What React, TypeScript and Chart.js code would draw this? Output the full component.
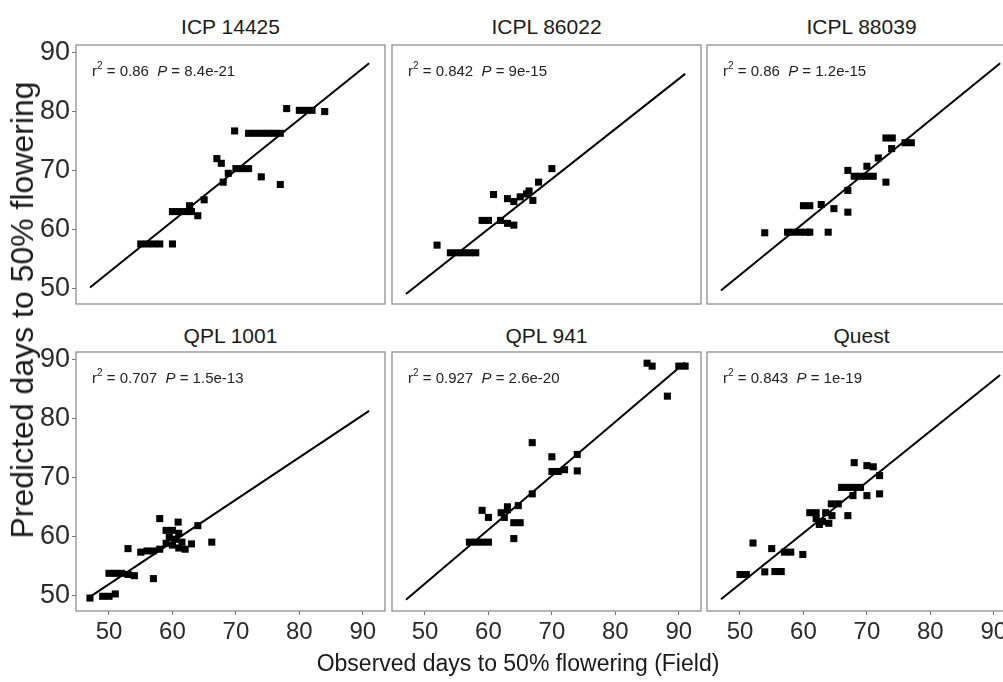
import React, { useEffect, useRef } from 'react';
import { Chart, registerables } from 'chart.js';

Chart.register(...registerables);

// ---------- data ----------
const panelTitles = ['ICP 14425', 'ICPL 86022', 'ICPL 88039', 'QPL 1001', 'QPL 941', 'Quest'];
const r2Values = ['0.86', '0.842', '0.86', '0.707', '0.927', '0.843'];
const pValues = ['8.4e-21', '9e-15', '1.2e-15', '1.5e-13', '2.6e-20', '1e-19'];
const xTicks = [50, 60, 70, 80, 90];
const yTicks = [50, 60, 70, 80, 90];
const xTitle = 'Observed days to 50% flowering (Field)';
const yTitle = 'Predicted days to 50% flowering';

const icp14425X = [55, 56, 57, 58, 60, 60, 61, 62, 63, 62.7, 64, 65, 67, 67.7, 68, 68.8, 70, 71, 72, 74, 77, 69.8, 72, 73, 74, 75, 76, 77, 78, 80, 81, 82, 84];
const icp14425Y = [57.5, 57.5, 57.5, 57.5, 57.5, 63, 63, 63, 63, 64, 62.3, 65, 72, 71.2, 68, 69.5, 70.3, 70.3, 70.3, 68.9, 67.6, 76.7, 76.3, 76.3, 76.3, 76.3, 76.3, 76.3, 80.5, 80.2, 80.2, 80.2, 80];

const icpl86022X = [51.9, 54, 55, 56, 57, 58, 59, 60, 61.9, 63, 64, 60.8, 63, 64, 65, 66, 67, 66.4, 67.9, 70];
const icpl86022Y = [57.3, 56, 56, 56, 56, 56, 61.5, 61.5, 61.5, 61, 60.7, 65.9, 65.2, 64.7, 65.5, 66, 64.9, 66.5, 68, 70.3];

const icpl88039X = [53.9, 57.5, 58.5, 59.5, 60.5, 61, 63.9, 60, 61, 62.8, 64.8, 67, 67, 67, 68, 69, 70, 71, 70, 73, 71.8, 73.9, 73, 74, 76, 77];
const icpl88039Y = [59.4, 59.5, 59.5, 59.5, 59.5, 59.5, 59.5, 64, 64, 64.2, 63.5, 62.9, 66.6, 70, 69, 69, 69, 69, 70.7, 68, 72.1, 73.7, 75.5, 75.5, 74.7, 74.7];

const qpl1001X = [47, 49, 50, 51, 50, 51, 52, 53, 54, 57, 53, 55, 56, 57, 58, 58, 60.9, 59, 60, 61, 59.5, 60.5, 61.5, 60, 61, 62, 59, 63, 64, 66.2];
const qpl1001Y = [49.5, 49.8, 49.8, 50.2, 53.7, 53.7, 53.7, 53.5, 53.3, 52.8, 57.9, 57.3, 57.5, 57.5, 57.8, 63, 62.4, 61, 61, 60.5, 59.8, 59.5, 59, 58.5, 58, 57.8, 58.8, 58.7, 61.8, 59];

const qpl941X = [85, 85.8, 90, 91, 88.2, 66.9, 70, 74, 70, 71, 72, 74, 66.9, 64.7, 59, 60, 62, 63, 62.5, 63, 64, 65, 64, 57, 58, 59, 60];
const qpl941Y = [89.4, 88.9, 88.9, 88.9, 83.8, 75.9, 73.5, 73.9, 71, 71, 71.3, 71.1, 67.2, 65.2, 64.4, 63.2, 64, 64.5, 63.2, 65, 62.3, 62.3, 59.6, 59, 59, 59, 59];

const questX = [52.05, 50, 51, 53.9, 55.5, 56.5, 55, 57, 58, 59.9, 61, 62, 62, 63, 64, 63.5, 64.5, 62.5, 64.4, 65.5, 67, 66, 67, 68, 69, 67.8, 70, 72, 68, 70, 71, 72];
const questY = [58.85, 53.5, 53.5, 53.95, 54, 54, 57.9, 57.3, 57.3, 56.9, 64, 64, 63, 62.5, 62.2, 64, 63.5, 62, 65.5, 65.5, 63.5, 68.3, 68.3, 68.3, 68.3, 66.9, 66.9, 67.2, 72.5, 72, 71.8, 70.3];

const panelXs = [icp14425X, icpl86022X, icpl88039X, qpl1001X, qpl941X, questX];
const panelYs = [icp14425Y, icpl86022Y, icpl88039Y, qpl1001Y, qpl941Y, questY];

// fitted line end points
const fitX = [47, 91];
const fitY1 = [50.1, 88.2];
const fitY2 = [49.0, 86.4];
const fitY3 = [49.6, 88.2];
const fitY4 = [49.7, 81.3];
const fitY5 = [49.2, 89.5];
const fitY6 = [49.3, 87.4];
const fitYs = [fitY1, fitY2, fitY3, fitY4, fitY5, fitY6];

// ---------- layout ----------
const X_MIN = 44.8;
const X_MAX = 93.5;
const Y_MIN = 47.3;
const Y_MAX = 91.3;
const COL_LEFT = [76, 392, 707];
const ROW_TOP = [45, 352];
const PW = 309;
const PH = 259;
const FONT = "'Liberation Sans', Arial, Helvetica, sans-serif";
const LEFT_AXIS = 60;
const BOTTOM_AXIS = 48;
const TOP_PAD = 14;

function Panel({ idx }: { idx: number }) {
  const ref = useRef<HTMLCanvasElement>(null);
  const row = Math.floor(idx / 3);
  const col = idx % 3;
  const showY = col === 0;
  const showX = row === 1;
  const L = showY ? LEFT_AXIS : 2;
  const B = showX ? BOTTOM_AXIS : 2;
  const width = PW + L + 2;
  const height = PH + B + TOP_PAD;

  useEffect(() => {
    if (!ref.current) return;
    const xs = panelXs[idx];
    const ys = panelYs[idx];
    const fy = fitYs[idx];
    const decor = {
      id: 'decor' + idx,
      afterDatasetsDraw(chart: any) {
        const { ctx, chartArea } = chart;
        ctx.save();
        ctx.strokeStyle = '#8f8f8f';
        ctx.lineWidth = 1.3;
        ctx.strokeRect(chartArea.left, chartArea.top, chartArea.right - chartArea.left, chartArea.bottom - chartArea.top);
        // annotation
        let x = chartArea.left + 16;
        const y = chartArea.top + 31;
        ctx.fillStyle = '#222';
        ctx.textBaseline = 'alphabetic';
        ctx.textAlign = 'left';
        ctx.font = `15px ${FONT}`;
        ctx.fillText('r', x, y);
        x += ctx.measureText('r').width;
        ctx.font = `10px ${FONT}`;
        ctx.fillText('2', x, y - 7);
        x += ctx.measureText('2').width;
        ctx.font = `15px ${FONT}`;
        const part1 = ' = ' + r2Values[idx] + '  ';
        ctx.fillText(part1, x, y);
        x += ctx.measureText(part1).width;
        ctx.font = `italic 15px ${FONT}`;
        ctx.fillText('P', x, y);
        x += ctx.measureText('P').width;
        ctx.font = `15px ${FONT}`;
        ctx.fillText(' = ' + pValues[idx], x, y);
        ctx.restore();
      },
    };
    const chart = new Chart(ref.current, {
      type: 'scatter',
      data: {
        datasets: [
          {
            type: 'scatter',
            data: xs.map((v, i) => ({ x: v, y: ys[i] })),
            pointStyle: 'rect',
            pointRadius: 5,
            backgroundColor: '#000',
            borderWidth: 0,
          } as any,
          {
            type: 'line',
            data: fitX.map((v, i) => ({ x: v, y: fy[i] })),
            borderColor: '#000',
            borderWidth: 2,
            pointRadius: 0,
            showLine: true,
            fill: false,
          } as any,
        ],
      },
      options: {
        animation: false,
        responsive: false,
        maintainAspectRatio: false,
        events: [],
        layout: {
          autoPadding: false,
          padding: { top: TOP_PAD, right: 2, left: showY ? 0 : 2, bottom: showX ? 0 : 2 },
        },
        plugins: { legend: { display: false }, tooltip: { enabled: false } },
        scales: {
          x: {
            type: 'linear',
            min: X_MIN,
            max: X_MAX,
            display: showX,
            afterBuildTicks: (s: any) => {
              s.ticks = xTicks.map((v) => ({ value: v }));
            },
            afterFit: (s: any) => {
              s.height = showX ? BOTTOM_AXIS : 0;
              s.paddingLeft = 0;
              s.paddingRight = 0;
              s.paddingTop = 0;
              s.paddingBottom = 0;
            },
            ticks: {
              font: { family: FONT, size: 24 },
              color: '#2b2b2b',
              padding: 3,
              maxRotation: 0,
              autoSkip: false,
            },
            grid: { drawOnChartArea: false, drawTicks: true, tickLength: 4, color: '#777', lineWidth: 1 },
            border: { display: false },
          },
          y: {
            type: 'linear',
            min: Y_MIN,
            max: Y_MAX,
            display: showY,
            afterBuildTicks: (s: any) => {
              s.ticks = yTicks.map((v) => ({ value: v }));
            },
            afterFit: (s: any) => {
              s.width = showY ? LEFT_AXIS : 0;
              s.paddingLeft = 0;
              s.paddingRight = 0;
              s.paddingTop = 0;
              s.paddingBottom = 0;
            },
            ticks: {
              font: { family: FONT, size: 27 },
              color: '#2b2b2b',
              padding: 2,
              autoSkip: false,
            },
            grid: { drawOnChartArea: false, drawTicks: true, tickLength: 4, color: '#777', lineWidth: 1 },
            border: { display: false },
          },
        },
      } as any,
      plugins: [decor],
    });
    return () => chart.destroy();
  }, [idx]);

  return (
    <canvas
      ref={ref}
      width={width}
      height={height}
      style={{
        position: 'absolute',
        left: COL_LEFT[col] - L,
        top: ROW_TOP[row] - TOP_PAD,
        width,
        height,
      }}
    />
  );
}

export default function App() {
  return (
    <div
      style={{
        position: 'fixed',
        left: 0,
        top: 0,
        width: 1003,
        height: 682,
        overflow: 'hidden',
        background: '#fff',
        fontFamily: FONT,
        color: '#1a1a1a',
      }}
    >
      {panelTitles.map((t, i) => {
        const row = Math.floor(i / 3);
        const col = i % 3;
        return (
          <div
            key={t}
            style={{
              position: 'absolute',
              left: COL_LEFT[col],
              width: PW,
              top: row === 0 ? 27 : 336,
              transform: 'translateY(-50%)',
              textAlign: 'center',
              fontSize: 21,
              lineHeight: '24px',
              whiteSpace: 'nowrap',
            }}
          >
            {t}
          </div>
        );
      })}
      {[0, 1, 2, 3, 4, 5].map((i) => (
        <Panel key={i} idx={i} />
      ))}
      <div
        style={{
          position: 'absolute',
          left: 518,
          top: 663,
          transform: 'translate(-50%, -50%)',
          fontSize: 23,
          whiteSpace: 'nowrap',
          lineHeight: '26px',
        }}
      >
        {xTitle}
      </div>
      <div
        style={{
          position: 'absolute',
          left: 22,
          top: 310,
          transform: 'translate(-50%, -50%) rotate(-90deg)',
          fontSize: 32,
          whiteSpace: 'nowrap',
          lineHeight: '34px',
        }}
      >
        {yTitle}
      </div>
    </div>
  );
}
